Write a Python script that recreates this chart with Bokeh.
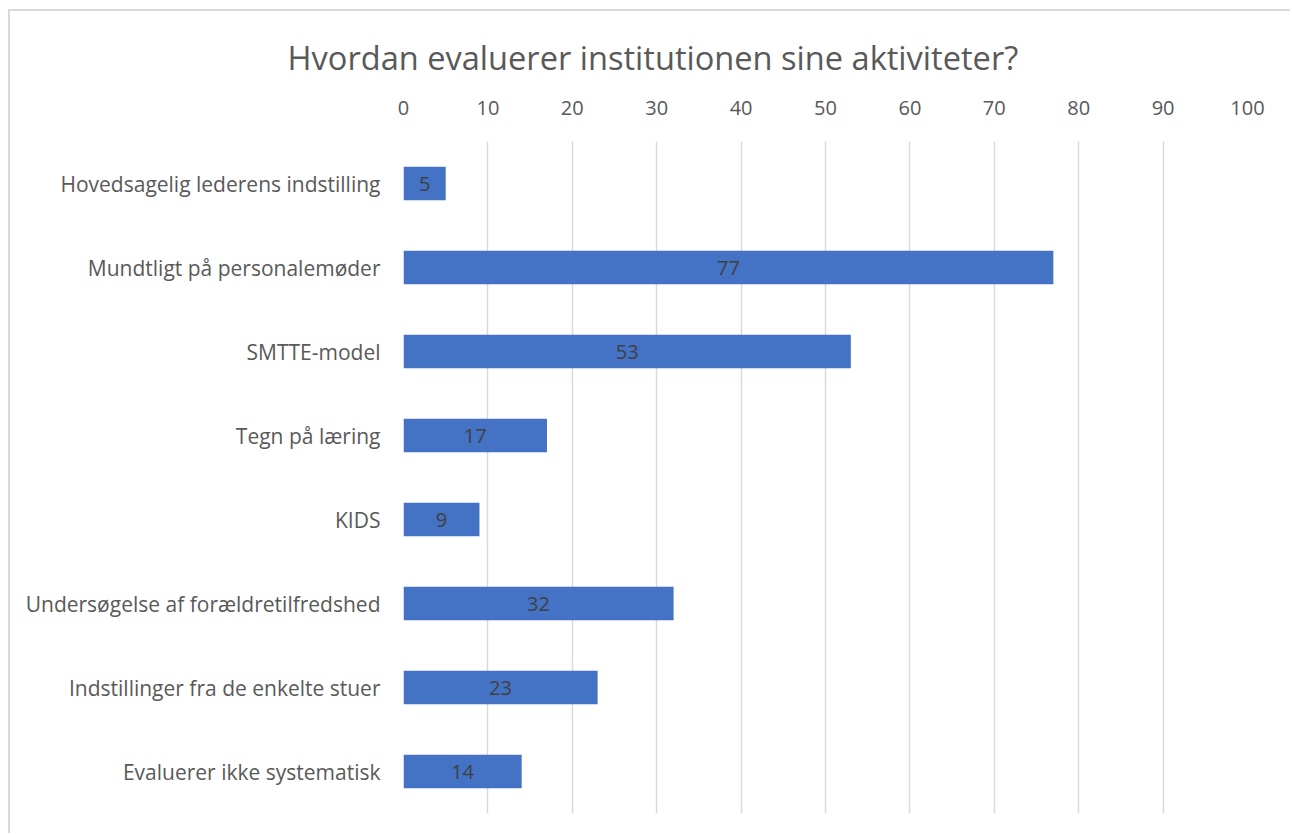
from bokeh.plotting import figure
from bokeh.models import ColumnDataSource, FactorRange, Range1d, Title, FixedTicker
from bokeh.embed import file_html
from bokeh.resources import INLINE
from bokeh.core.properties import value

categories = [
    "Hovedsagelig lederens indstilling",
    "Mundtligt på personalemøder",
    "SMTTE-model",
    "Tegn på læring",
    "KIDS",
    "Undersøgelse af forældretilfredshed",
    "Indstillinger fra de enkelte stuer",
    "Evaluerer ikke systematisk",
]
counts = [5, 77, 53, 17, 9, 32, 23, 14]
x_ticks = [0, 10, 20, 30, 40, 50, 60, 70, 80, 90, 100]
title_text = "Hvordan evaluerer institutionen sine aktiviteter?"

FONT = "Open Sans"

src = ColumnDataSource(dict(
    cat=categories,
    val=counts,
    mid=[v / 2 for v in counts],
    lab=[str(v) for v in counts],
))

p = figure(
    frame_width=844, frame_height=672,
    y_range=FactorRange(factors=list(reversed(categories)), range_padding=0),
    x_range=Range1d(0, 100),
    x_axis_location="above",
    output_backend="svg",
    toolbar_location=None,
    min_border_left=393, min_border_right=43,
    min_border_top=130, min_border_bottom=20,
)
p.styles = {"border-left": "2px solid #D9D9D9", "border-top": "2px solid #D9D9D9",
            "margin-left": "8px", "margin-top": "9px"}
p.outline_line_color = None
p.background_fill_color = "white"
p.border_fill_color = "white"

t = Title(text=title_text, align="left", offset=-116,
          text_font=FONT, text_font_size="32.6px", text_font_style="normal",
          text_color="#595959", standoff=36)
p.add_layout(t, "above")

p.hbar(y="cat", right="val", left=0, height=0.4, source=src,
       fill_color="#4472C4", line_color=None)
p.text(x="mid", y="cat", text="lab", source=src,
       text_align="center", text_baseline="middle",
       text_font=value(FONT), text_font_size="20px", text_color="#404040")

xa = p.xaxis[0]
xa.ticker = FixedTicker(ticks=x_ticks)
xa.axis_line_color = None
xa.major_tick_line_color = None
xa.minor_tick_line_color = None
xa.major_label_text_font = FONT
xa.major_label_text_font_size = "20px"
xa.major_label_text_color = "#595959"
xa.major_label_standoff = 21

ya = p.yaxis[0]
ya.axis_line_color = None
ya.major_tick_line_color = None
ya.minor_tick_line_color = None
ya.major_label_text_font = FONT
ya.major_label_text_font_size = "21px"
ya.major_label_text_color = "#595959"
ya.major_label_standoff = 17

p.xgrid.grid_line_color = "#D9D9D9"
p.xgrid.grid_line_width = 1.5
p.ygrid.grid_line_color = None

open("out.html", "w").write(file_html(p, INLINE))
